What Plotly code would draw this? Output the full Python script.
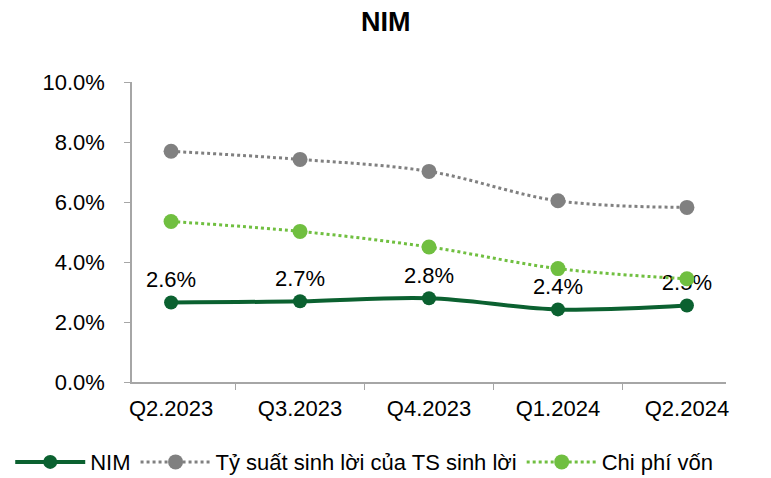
import plotly.graph_objects as go

# quarters and series values (%)
quarters = ['Q2.2023', 'Q3.2023', 'Q4.2023', 'Q1.2024', 'Q2.2024']
nim = [2.65, 2.69, 2.79, 2.42, 2.55]
nim_labels = ['2.6%', '2.7%', '2.8%', '2.4%', '2.5%']
yield_assets = [7.69, 7.42, 7.02, 6.04, 5.82]
cost_of_funds = [5.35, 5.02, 4.50, 3.78, 3.44]

font_family = 'Liberation Sans, Arial, sans-serif'

fig = go.Figure()

fig.add_trace(go.Scatter(
    x=quarters, y=nim, name='NIM',
    mode='lines+markers+text',
    text=nim_labels, textposition='top center',
    textfont=dict(size=22, color='#000000'),
    line=dict(color='#0B6130', width=4, shape='spline'),
    marker=dict(size=14, color='#0B6130'),
))

fig.add_trace(go.Scatter(
    x=quarters, y=yield_assets, name='Tỷ suất sinh lời của TS sinh lời',
    mode='lines+markers',
    line=dict(color='#808080', width=3, dash='dot', shape='spline'),
    marker=dict(size=15, color='#808080'),
))

fig.add_trace(go.Scatter(
    x=quarters, y=cost_of_funds, name='Chi phí vốn',
    mode='lines+markers',
    line=dict(color='#70BF40', width=3, dash='dot', shape='spline'),
    marker=dict(size=15, color='#70BF40'),
))

fig.update_layout(
    width=771, height=478,
    margin=dict(l=124, r=53, t=74, b=104, autoexpand=False),
    paper_bgcolor='white', plot_bgcolor='white',
    font=dict(family=font_family, size=22, color='#000000'),
    title=dict(text='<b>NIM</b>', x=0.49, xanchor='center',
               y=1 - 14 / 478, yanchor='middle', font=dict(size=27)),
    showlegend=True,
    # placed left of / below the plot area so the row may use the full width
    legend=dict(orientation='h', x=-0.205, xanchor='left',
                y=-0.267, yanchor='middle',
                font=dict(size=22), itemwidth=70, tracegroupgap=0),
)

fig.update_xaxes(
    showline=True, linecolor='#A6A6A6', linewidth=1.5,
    ticks='outside', tickson='boundaries', ticklen=6, tickcolor='#A6A6A6',
    showgrid=False, tickfont=dict(size=22), ticklabelstandoff=6,
)

fig.update_yaxes(
    range=[0, 10], dtick=2, tickformat='.1f', ticksuffix='%',
    showline=True, linecolor='#A6A6A6', linewidth=1.5,
    ticks='outside', ticklen=6, tickcolor='#A6A6A6',
    showgrid=False, zeroline=False, tickfont=dict(size=22),
    ticklabelstandoff=15,
)

fig.write_html('out.html')
